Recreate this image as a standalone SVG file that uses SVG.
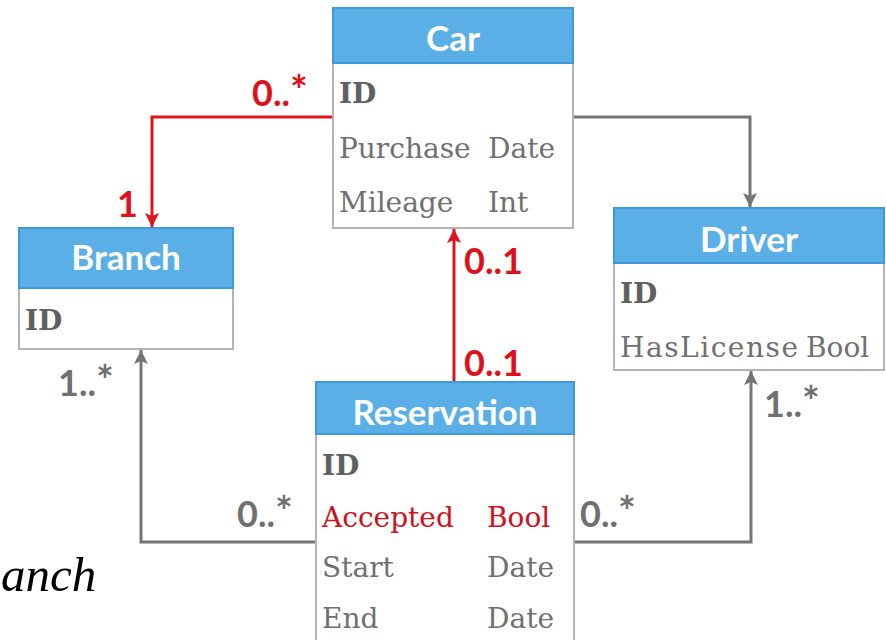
<svg xmlns="http://www.w3.org/2000/svg" width="886" height="640" viewBox="0 0 886 640">
<defs>
<style>
.hdr{fill:#5aafe6;stroke:#3f9bd8;stroke-width:2}
.body{fill:#ffffff;stroke:#b4b4b4;stroke-width:2}
.title{font-family:Lato,"Open Sans",sans-serif;font-weight:bold;font-size:35px;fill:#ffffff;text-anchor:middle}
.attr{font-family:"DejaVu Serif",serif;font-size:28px;fill:#707070}
.id{font-family:"DejaVu Serif",serif;font-size:28px;fill:#606060;font-weight:bold}
.red{fill:#d0101c}
.mult{font-family:Lato,"Open Sans",sans-serif;font-weight:bold;font-size:36px;fill:#707070}
.multr{font-family:Lato,"Open Sans",sans-serif;font-weight:bold;font-size:36px;fill:#e0101a}
.star{font-size:42px}
.lg{fill:none;stroke:#757575;stroke-width:3}
.lr{fill:none;stroke:#e0141e;stroke-width:3}
.math{font-family:"Liberation Serif",serif;font-style:italic;font-size:49px;fill:#000000}
</style>
<marker id="ag" markerUnits="userSpaceOnUse" markerWidth="16" markerHeight="16" viewBox="0 0 16 16" refX="15" refY="8" orient="auto">
<path d="M1,1 L15,8 L1,15 L4,8 z" fill="#757575"/>
</marker>
<marker id="ar" markerUnits="userSpaceOnUse" markerWidth="16" markerHeight="16" viewBox="0 0 16 16" refX="15" refY="8" orient="auto">
<path d="M1,1 L15,8 L1,15 L4,8 z" fill="#e0141e"/>
</marker>
</defs>
<rect width="886" height="640" fill="#ffffff"/>

<g id="connectors">
<path class="lr" d="M333,117 H152 V227" marker-end="url(#ar)"/>
<path class="lg" d="M573,117 H750 V207" marker-end="url(#ag)"/>
<path class="lr" d="M454,382 V229" marker-end="url(#ar)"/>
<path class="lg" d="M316,542 H141 V350" marker-end="url(#ag)"/>
<path class="lg" d="M574,542 H751 V371" marker-end="url(#ag)"/>
<text class="multr" x="252" y="106">0..<tspan class="star">*</tspan></text>
<text class="multr" x="117" y="217">1</text>
<text class="multr" x="464" y="274">0..1</text>
<text class="multr" x="464" y="376">0..1</text>
<text class="mult" x="58" y="396">1..<tspan class="star">*</tspan></text>
<text class="mult" x="237" y="527">0..<tspan class="star">*</tspan></text>
<text class="mult" x="580" y="527">0..<tspan class="star">*</tspan></text>
<text class="mult" x="764" y="417">1..<tspan class="star">*</tspan></text>
</g>

<g id="car">
<rect class="body" x="333" y="63" width="240" height="165"/>
<rect class="hdr" x="333" y="8" width="240" height="55"/>
<text class="title" x="453" y="51">Car</text>
<text class="id" x="339" y="103">ID</text>
<text class="attr" x="339" y="158">Purchase</text>
<text class="attr" x="488" y="158">Date</text>
<text class="attr" x="339" y="212">Mileage</text>
<text class="attr" x="488" y="212">Int</text>
</g>

<g id="branch">
<rect class="body" x="19" y="288" width="214" height="61"/>
<rect class="hdr" x="19" y="228" width="214" height="60"/>
<text class="title" x="126" y="270">Branch</text>
<text class="id" x="25" y="330">ID</text>
</g>

<g id="driver">
<rect class="body" x="614" y="263" width="270" height="107"/>
<rect class="hdr" x="614" y="208" width="270" height="55"/>
<text class="title" x="749" y="252">Driver</text>
<text class="id" x="620" y="303">ID</text>
<text class="attr" x="620" y="357" textLength="178" lengthAdjust="spacing">HasLicense</text>
<text class="attr" x="806" y="357">Bool</text>
</g>

<g id="reservation">
<rect class="body" x="316" y="434" width="258" height="230"/>
<rect class="hdr" x="316" y="382" width="258" height="52"/>
<text class="title" x="445" y="425">Reservation</text>
<text class="id" x="322" y="475">ID</text>
<text class="attr red" x="322" y="527">Accepted</text>
<text class="attr red" x="487" y="527">Bool</text>
<text class="attr" x="322" y="577">Start</text>
<text class="attr" x="487" y="577">Date</text>
<text class="attr" x="322" y="628">End</text>
<text class="attr" x="487" y="628">Date</text>
</g>

<text class="math" x="1" y="591">anch</text>
</svg>
